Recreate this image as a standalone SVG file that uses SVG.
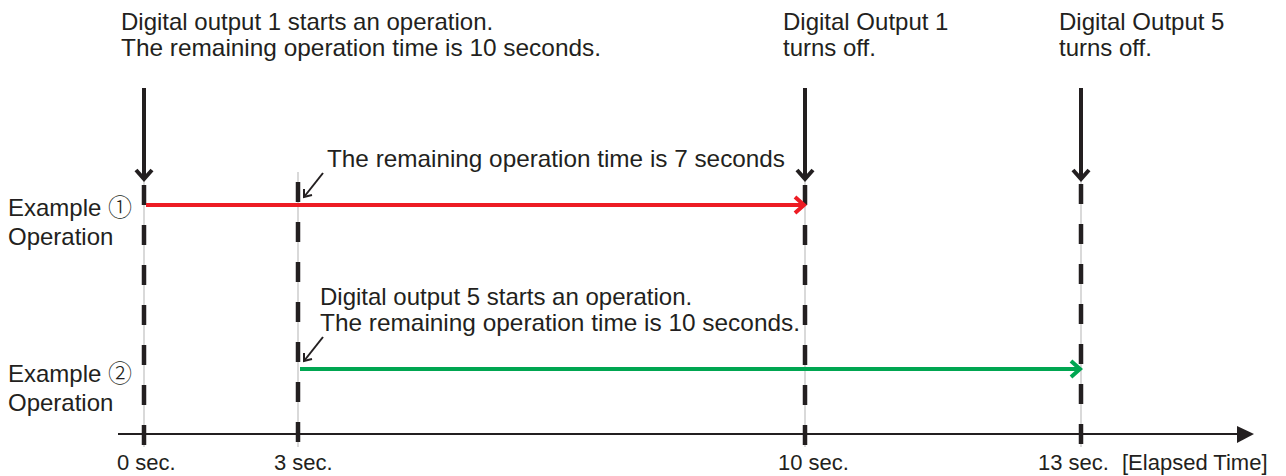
<svg xmlns="http://www.w3.org/2000/svg" width="1286" height="476" viewBox="0 0 1286 476">
<style>
text{font-family:"Liberation Sans",Arial,"DejaVu Sans","Noto Sans CJK JP",sans-serif;font-size:24px;fill:#231f20}
.tick{font-size:22px}
.circ{font-family:"Noto Sans CJK JP","DejaVu Sans",sans-serif;font-size:24px;font-weight:300}
.guide{stroke:#b3b3b3;stroke-width:1;fill:none}
.dash{stroke:#231f20;stroke-width:4.5;stroke-dasharray:20 20;fill:none}
.big{stroke:#231f20;stroke-width:4;fill:none}
.small{stroke:#231f20;stroke-width:2;fill:none}
.axis{stroke:#231f20;stroke-width:2;fill:none}
</style>
<rect width="1286" height="476" fill="#fff"/>
<g id="connectors">
  <g id="guides">
    <line class="guide" x1="144" y1="178" x2="144" y2="447"/>
    <line class="guide" x1="298" y1="172" x2="298" y2="447"/>
    <line class="guide" x1="805" y1="178" x2="805" y2="447"/>
    <line class="guide" x1="1081" y1="178" x2="1081" y2="447"/>
  </g>
  <g id="dashes">
    <line class="dash" x1="144" y1="185" x2="144" y2="447"/>
    <line class="dash" x1="298" y1="182" x2="298" y2="447"/>
    <line class="dash" x1="805" y1="185" x2="805" y2="447"/>
    <line class="dash" x1="1081" y1="184" x2="1081" y2="447"/>
  </g>
  <g id="axis">
    <line class="axis" x1="118" y1="434" x2="1240" y2="434"/>
    <polygon points="1237,426 1254,434 1237,443" fill="#231f20"/>
  </g>
  <g id="event-arrows">
    <line class="big" x1="144" y1="88" x2="144" y2="178"/>
    <polyline class="big" points="136,170 144,179 152,170"/>
    <line class="big" x1="805" y1="88" x2="805" y2="178"/>
    <polyline class="big" points="797,170 805,179 813,170"/>
    <line class="big" x1="1081" y1="88" x2="1081" y2="178"/>
    <polyline class="big" points="1073,170 1081,179 1089,170"/>
  </g>
  <g id="pointer-arrows">
    <line class="small" x1="323" y1="173" x2="304" y2="197"/>
    <polyline class="small" points="304,189 304,197 312,195"/>
    <line class="small" x1="323" y1="337" x2="304" y2="361"/>
    <polyline class="small" points="304,353 304,361 312,359"/>
  </g>
  <g id="op1">
    <line x1="146" y1="205" x2="802" y2="205" stroke="#ed1c24" stroke-width="4"/>
    <polyline points="795,197 804,205 795,213" fill="none" stroke="#ed1c24" stroke-width="4"/>
  </g>
  <g id="op2">
    <line x1="300" y1="369" x2="1078" y2="369" stroke="#00a651" stroke-width="4"/>
    <polyline points="1071,361 1080,369 1071,377" fill="none" stroke="#00a651" stroke-width="4"/>
  </g>
</g>
<g id="label-start1">
  <text x="121" y="30">Digital output 1 starts an operation.</text>
  <text x="121" y="56" textLength="480" lengthAdjust="spacingAndGlyphs">The remaining operation time is 10 seconds.</text>
</g>
<g id="label-off1">
  <text x="783" y="30">Digital Output 1</text>
  <text x="783" y="56">turns off.</text>
</g>
<g id="label-off5">
  <text x="1059" y="30">Digital Output 5</text>
  <text x="1059" y="56">turns off.</text>
</g>
<g id="label-7s">
  <text x="327" y="167" textLength="458" lengthAdjust="spacingAndGlyphs">The remaining operation time is 7 seconds</text>
</g>
<g id="label-start5">
  <text x="320" y="305">Digital output 5 starts an operation.</text>
  <text x="320" y="331" textLength="480" lengthAdjust="spacingAndGlyphs">The remaining operation time is 10 seconds.</text>
</g>
<g id="label-ex1">
  <text x="8" y="216">Example <tspan class="circ">①</tspan></text>
  <text x="8" y="245">Operation</text>
</g>
<g id="label-ex2">
  <text x="8" y="382">Example <tspan class="circ">②</tspan></text>
  <text x="8" y="411">Operation</text>
</g>
<g id="ticks">
  <text class="tick" x="117" y="470">0 sec.</text>
  <text class="tick" x="274" y="470">3 sec.</text>
  <text class="tick" x="778" y="470">10 sec.</text>
  <text class="tick" x="1038" y="470">13 sec.</text>
  <text class="tick" x="1122" y="470">[Elapsed Time]</text>
</g>
</svg>
